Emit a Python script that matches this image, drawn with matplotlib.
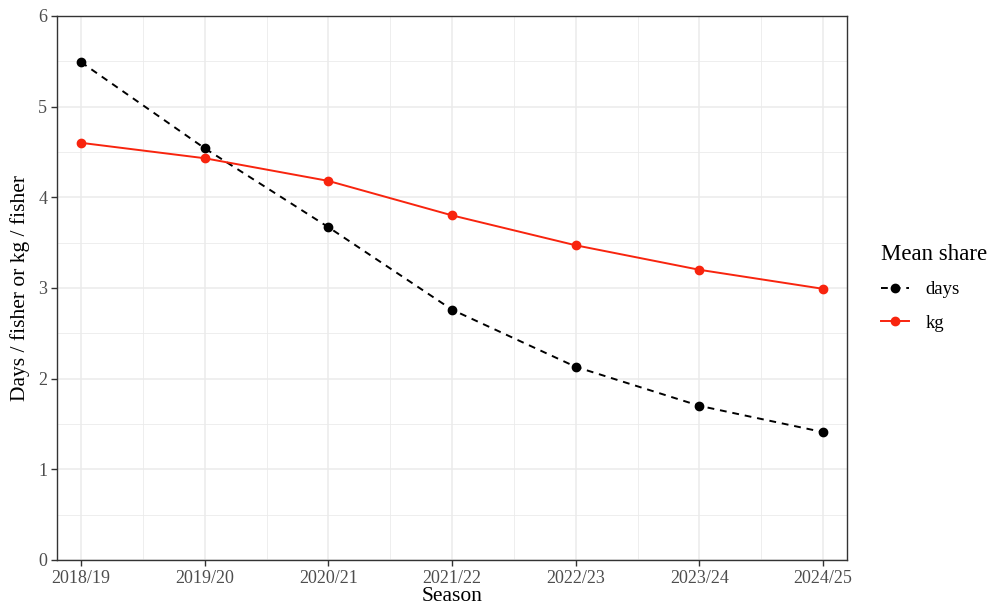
import numpy as np
import matplotlib.pyplot as plt
from matplotlib.ticker import MultipleLocator

# values
seasons = ["2018/19", "2019/20", "2020/21", "2021/22", "2022/23", "2023/24", "2024/25"]
days = [5.49, 4.54, 3.67, 2.76, 2.13, 1.70, 1.41]
kg = [4.60, 4.43, 4.18, 3.80, 3.47, 3.20, 2.99]

plt.rcParams['font.family'] = ['Liberation Serif', 'DejaVu Serif']

fig = plt.figure(figsize=(9.95, 6.10), dpi=100)
ax = fig.add_axes([0.0573, 0.082, 0.794, 0.892])

x = np.arange(len(seasons))
ax.plot(x, days, color='black', linestyle=(0, (3.5, 3)), lw=1.4,
        marker='o', ms=6, label='days', zorder=3)
ax.plot(x, kg, color='#F8240E', linestyle='-', lw=1.4,
        marker='o', ms=6, label='kg', zorder=3)

ax.set_xlim(-0.194, 6.194)
ax.set_ylim(0, 6)
ax.set_xticks(x)
ax.set_xticklabels(seasons)
ax.xaxis.set_minor_locator(MultipleLocator(0.5))
ax.yaxis.set_major_locator(MultipleLocator(1))
ax.yaxis.set_minor_locator(MultipleLocator(0.5))

# theme_bw-ish grid
ax.grid(which='major', color='#EBEBEB', lw=1.1)
ax.grid(which='minor', color='#EBEBEB', lw=0.6)
ax.set_axisbelow(True)
for s in ax.spines.values():
    s.set_color('#333333')
    s.set_linewidth(1.0)

ax.tick_params(which='major', length=4, width=1.0, color='#333333',
               labelcolor='#4D4D4D', labelsize=13, pad=3)
ax.tick_params(which='minor', length=0)

ax.set_xlabel('Season', fontsize=15.5, labelpad=0)
ax.set_ylabel('Days / fisher or kg / fisher', fontsize=15.5, labelpad=6)

leg = fig.legend(loc='upper left', bbox_to_anchor=(0.868, 0.627),
                 title='Mean share', frameon=False, fontsize=13.5,
                 title_fontsize=16.5, handlelength=1.5, labelspacing=0.85,
                 handletextpad=0.9)
leg._legend_box.align = 'left'

plt.savefig('out.png', dpi=100)
